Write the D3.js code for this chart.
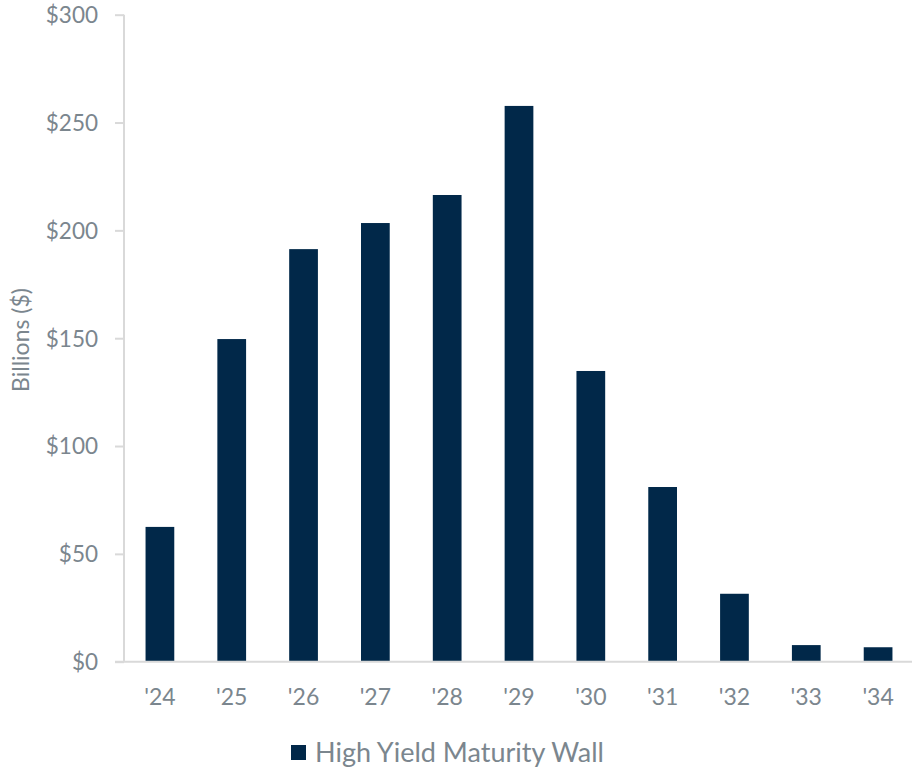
<!DOCTYPE html>
<html><head><meta charset="utf-8">
<script src="https://cdn.jsdelivr.net/npm/d3@7"></script>
<style>body{margin:0;background:#fff}svg{display:block}text{font-family:"Source Sans Pro","Lato","Noto Sans",sans-serif}</style>
</head><body>
<svg id="c" width="915" height="771"></svg>
<script>
const categories = ["'24","'25","'26","'27","'28","'29","'30","'31","'32","'33","'34"];
const values = [62.5,149.6,191.3,203.4,216.4,257.7,134.8,81,31.5,7.7,6.7];
const yTicks = [0,50,100,150,200,250,300];
const seriesName = "High Yield Maturity Wall";

const svg = d3.select("#c");
const barColor = "#012849", textColor = "#7b868e", axisColor = "#d9d9d9";
const x = d3.scaleBand().domain(categories).range([124,914]).paddingInner(0.6).paddingOuter(0.3);
const y = d3.scaleLinear().domain([0,300]).range([661.7,14.7]);

// y axis
const ya = svg.append("g").attr("transform","translate(124,0)")
  .call(d3.axisLeft(y).tickValues(yTicks).tickFormat(d=>"$"+d).tickSize(9).tickPadding(17));
ya.select(".domain").attr("stroke",axisColor).attr("stroke-width",2).attr("d","M0,14.7V661.7");
ya.selectAll(".tick line").attr("stroke",axisColor).attr("stroke-width",2);
ya.selectAll(".tick text").attr("fill",textColor).style("font-size","22.5px").attr("dy","0.35em");

// bars
svg.append("g").selectAll("rect").data(values).join("rect")
  .attr("x",(d,i)=>x(categories[i])).attr("width",x.bandwidth())
  .attr("y",d=>y(d)).attr("height",d=>y(0)-y(d)).attr("fill",barColor);

// x axis
const xa = svg.append("g").attr("transform","translate(0,661.7)")
  .call(d3.axisBottom(x).tickSize(0).tickPadding(27));
xa.select(".domain").attr("stroke",axisColor).attr("stroke-width",2).attr("d","M115,0H912");
xa.selectAll(".tick text").attr("fill",textColor).style("font-size","23px");

// y title
svg.append("text").attr("transform","translate(29,340) rotate(-90)").attr("text-anchor","middle")
  .attr("fill",textColor).style("font-size","23px").text("Billions ($)");

// legend
const lg = svg.append("g");
lg.append("rect").attr("x",291).attr("y",745).attr("width",15).attr("height",15).attr("fill",barColor);
lg.append("text").attr("x",315).attr("y",762).attr("fill",textColor).style("font-size","27px").text(seriesName);
</script>
</body></html>
